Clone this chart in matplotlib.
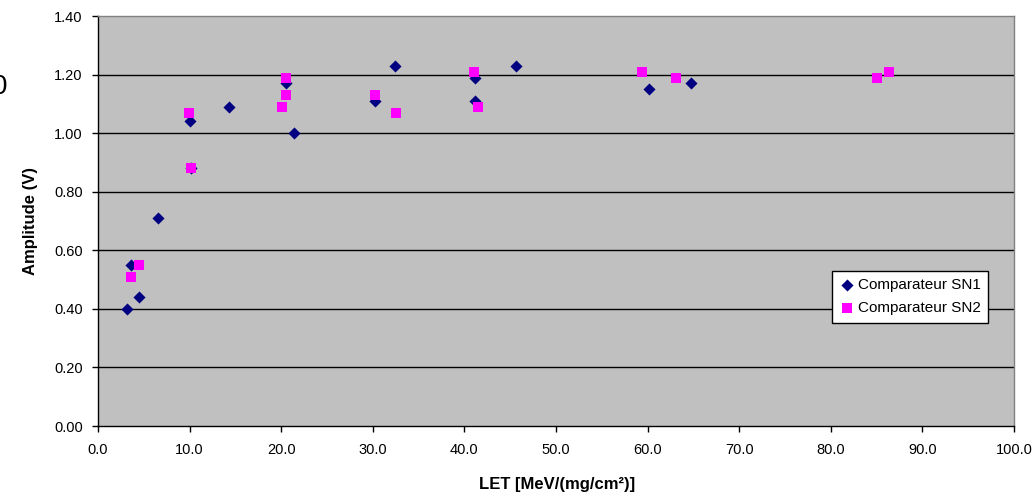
import matplotlib
matplotlib.use('Agg')
import matplotlib.pyplot as plt

plt.rcParams['font.family'] = ['Liberation Sans', 'DejaVu Sans']

# Comparateur SN1 (diamonds)
sn1_let = [3.2, 3.6, 4.5, 6.6, 10.0, 10.2, 14.3, 20.5, 21.4, 30.2, 32.4,
           41.1, 41.1, 45.6, 60.1, 64.7]
sn1_amp = [0.40, 0.55, 0.44, 0.71, 1.04, 0.88, 1.09, 1.17, 1.00, 1.11, 1.23,
           1.19, 1.11, 1.23, 1.15, 1.17]

# Comparateur SN2 (squares)
sn2_let = [3.6, 4.5, 9.9, 10.1, 20.1, 20.5, 20.5, 30.2, 32.5, 41.0, 41.5,
           59.4, 63.1, 85.0, 86.4]
sn2_amp = [0.51, 0.55, 1.07, 0.88, 1.09, 1.19, 1.13, 1.13, 1.07, 1.21, 1.09,
           1.21, 1.19, 1.19, 1.21]

xticks = [i * 10.0 for i in range(11)]
yticks = [i * 0.2 for i in range(8)]

fig = plt.figure(figsize=(10.34, 4.93), dpi=100)
ax = fig.add_axes([0.0948, 0.1359, 0.8859, 0.8316])
ax.set_facecolor('#c0c0c0')

for y in yticks[1:-1]:
    ax.axhline(y, color='black', linewidth=1.0, zorder=1)

ax.scatter(sn1_let, sn1_amp, marker='D', s=38, color='#000080',
           linewidths=0, label='Comparateur SN1', zorder=3)
ax.scatter(sn2_let, sn2_amp, marker='s', s=48, color='#ff00ff',
           linewidths=0, label='Comparateur SN2', zorder=3)

ax.set_xlim(0, 100)
ax.set_ylim(0, 1.4)
ax.set_xticks(xticks)
ax.set_xticklabels(['%.1f' % v for v in xticks])
ax.set_yticks(yticks)
ax.set_yticklabels(['%.2f' % v for v in yticks])
ax.tick_params(direction='out', length=4, width=1, labelsize=10.5,
               colors='black')
ax.tick_params(axis='x', pad=8)
ax.tick_params(axis='y', pad=7)

for side in ['left', 'bottom']:
    ax.spines[side].set_color('black')
    ax.spines[side].set_linewidth(1)
for side in ['top', 'right']:
    ax.spines[side].set_color('#808080')
    ax.spines[side].set_linewidth(1)

ax.set_xlabel('LET [MeV/(mg/cm²)]', fontsize=12, fontweight='bold')
ax.set_ylabel('Amplitude (V)', fontsize=12, fontweight='bold')
ax.xaxis.set_label_coords(0.501, -0.1415)
ax.yaxis.set_label_coords(-0.074, 0.5)
ax.xaxis.label.set_va('center')
ax.yaxis.label.set_va('center')

leg = ax.legend(loc='lower right', bbox_to_anchor=(0.972, 0.251), frameon=True,
                fancybox=False, fontsize=11, handletextpad=0.2,
                borderpad=0.5, labelspacing=0.6, handlelength=1.0,
                borderaxespad=0)
leg.get_frame().set_edgecolor('black')
leg.get_frame().set_facecolor('white')
leg.get_frame().set_linewidth(1)
leg.get_frame().set_alpha(1)

# stray clipped character at the left edge
fig.text(7 / 1034, 1 - 87 / 493, '0', fontsize=20, ha='right', va='center')

fig.savefig('out.png', dpi=100)
